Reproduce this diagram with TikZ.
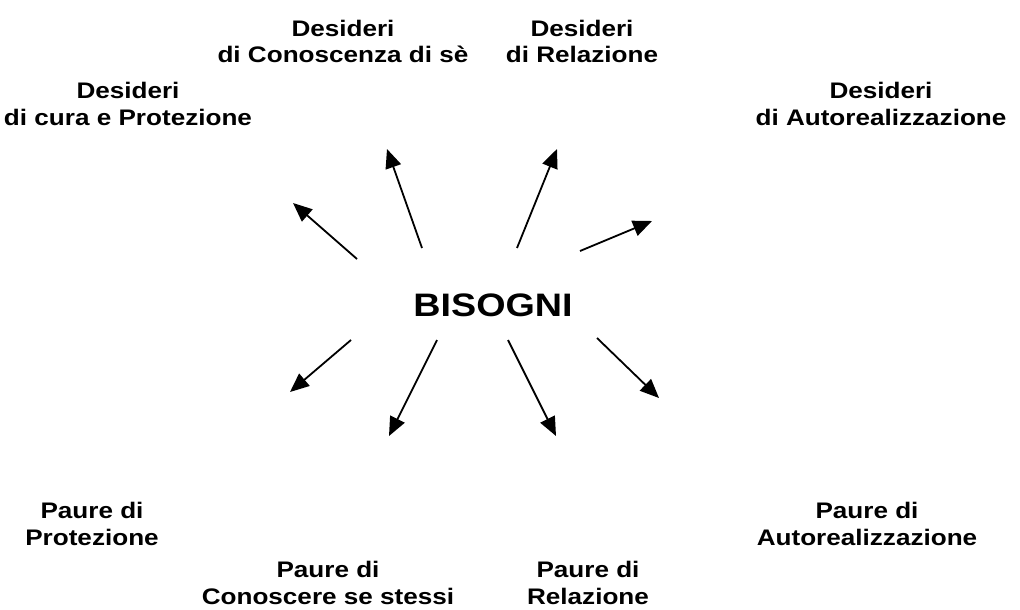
\documentclass[tikz,border=0pt]{standalone}
\usepackage{fontspec}
\setmainfont[FakeStretch=1.16]{Liberation Sans}
\usetikzlibrary{arrows.meta}
\tikzstyle{wish} = [align=center, anchor=base, inner sep=0pt, font=\fontsize{22.5}{26.5}\selectfont\bfseries]
\tikzstyle{fear} = [align=center, anchor=base, inner sep=0pt, font=\fontsize{22.5}{26.5}\selectfont\bfseries]
\tikzstyle{core} = [anchor=base, inner sep=0pt, font=\fontsize{32.5}{36}\selectfont\bfseries]
\tikzstyle{arr} = [line width=1.8pt, -{Triangle[length=19pt,width=16pt]}]

\begin{document}
\begin{tikzpicture}[x=1pt,y=1pt]
    \useasboundingbox (0,0) rectangle (1020,-610);
    \node (bisogni) [core] at (493,-316) {BISOGNI};
    \node (dCura) [wish] at (128,-125) {Desideri\\di cura e Protezione};
    \node (dConosc) [wish] at (343,-63) {Desideri\\di Conoscenza di sè};
    \node (dRel) [wish] at (582,-63) {Desideri\\di Relazione};
    \node (dAuto) [wish] at (881,-125) {Desideri\\di Autorealizzazione};
    \node (pProt) [fear] at (92,-545) {Paure di\\Protezione};
    \node (pConosc) [fear] at (328,-604) {Paure di\\Conoscere se stessi};
    \node (pRel) [fear] at (588,-604) {Paure di\\Relazione};
    \node (pAuto) [fear] at (867,-545) {Paure di\\Autorealizzazione};
    % tails and tips of the arrows
    \coordinate (tCura) at (357,-259);  \coordinate (hCura) at (293,-203);
    \coordinate (tConosc) at (422,-248); \coordinate (hConosc) at (387,-149);
    \coordinate (tRel) at (517,-248);   \coordinate (hRel) at (557,-149);
    \coordinate (tAuto) at (580,-251);  \coordinate (hAuto) at (652,-221);
    \coordinate (sProt) at (351,-340);  \coordinate (eProt) at (290,-392);
    \coordinate (sConosc) at (437,-340); \coordinate (eConosc) at (389,-436);
    \coordinate (sRel) at (508,-340);   \coordinate (eRel) at (556,-436);
    \coordinate (sAuto) at (597,-338);  \coordinate (eAuto) at (659,-398);
    \draw[arr] (tCura) -- (hCura);
    \draw[arr] (tConosc) -- (hConosc);
    \draw[arr] (tRel) -- (hRel);
    \draw[arr] (tAuto) -- (hAuto);
    \draw[arr] (sProt) -- (eProt);
    \draw[arr] (sConosc) -- (eConosc);
    \draw[arr] (sRel) -- (eRel);
    \draw[arr] (sAuto) -- (eAuto);
\end{tikzpicture}
\end{document}
